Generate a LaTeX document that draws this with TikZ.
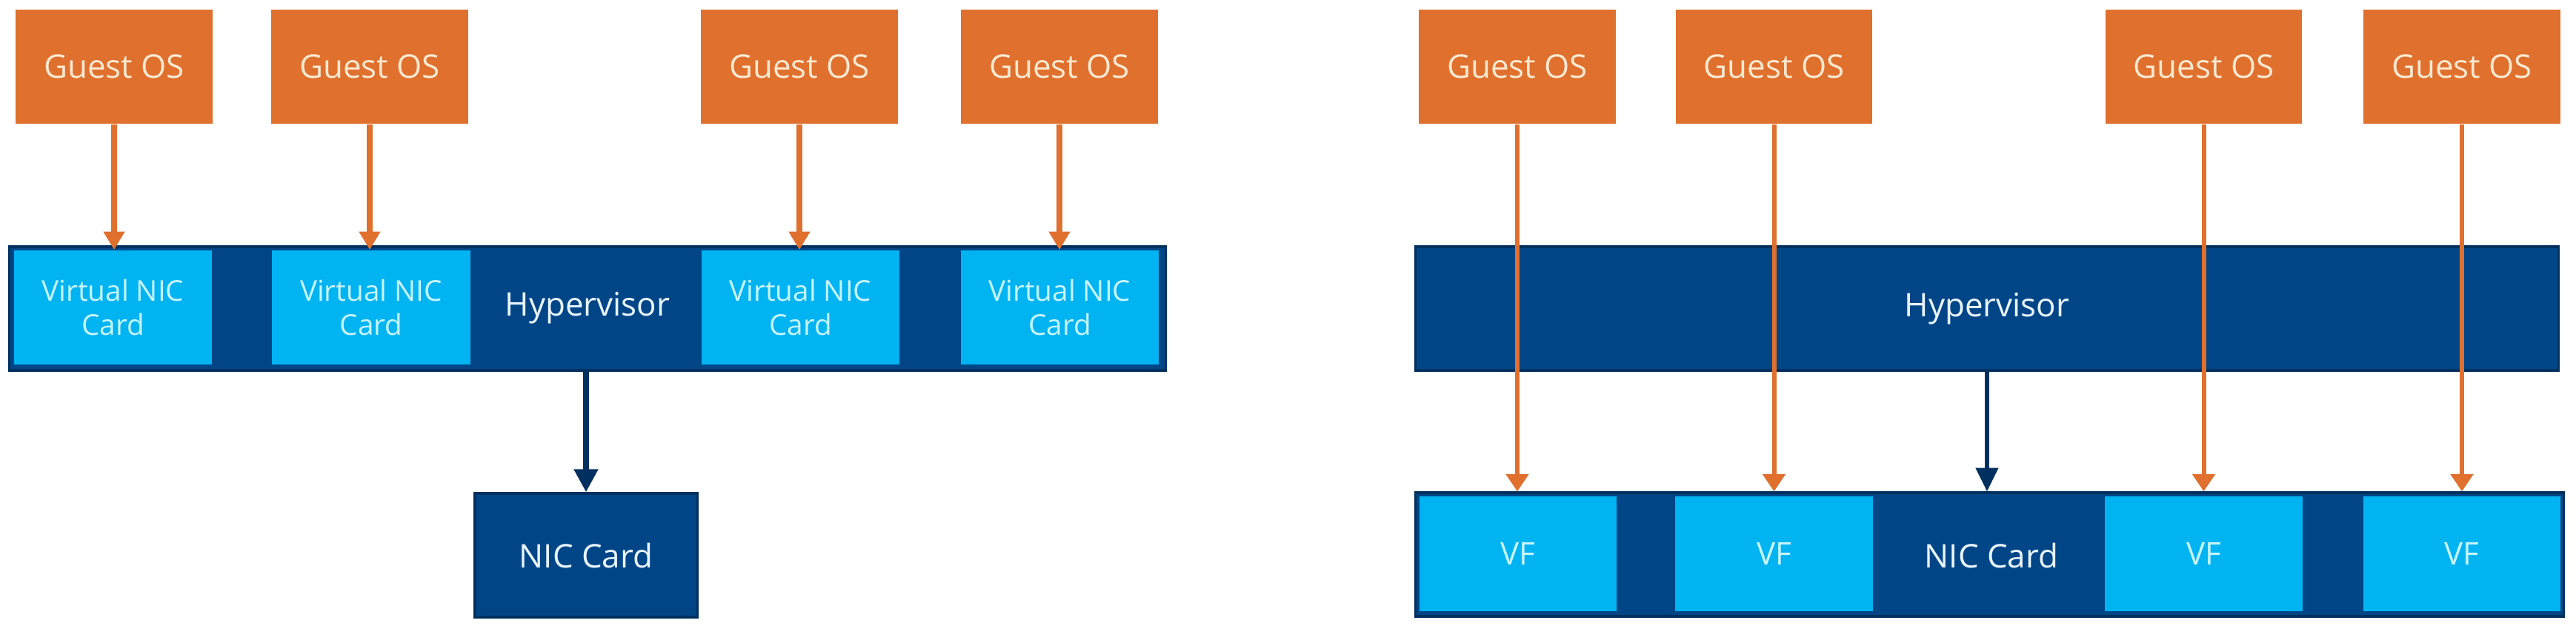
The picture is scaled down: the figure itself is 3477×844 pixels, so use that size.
\documentclass[tikz,border=0pt]{standalone}
\usepackage{fontspec}
\setmainfont{Open Sans}
\usetikzlibrary{arrows.meta}
\definecolor{gorange}{HTML}{E0702E}
\definecolor{gtext}{HTML}{FDE8CF}
\definecolor{vcyan}{HTML}{00B4F2}
\definecolor{ctext}{HTML}{C8F4FF}
\definecolor{dblue}{HTML}{004687}
\definecolor{dborder}{HTML}{00305F}
\definecolor{wtext}{HTML}{EAF4FF}
\tikzset{
  guest/.style={fill=gorange, draw=none, minimum width=2.65cm, minimum height=1.54cm,
    inner sep=0pt, text=gtext, font=\fontsize{12.5}{14}\selectfont, align=center},
  vnic/.style={fill=vcyan, draw=none, minimum width=2.67cm, minimum height=1.54cm,
    inner sep=0pt, text=ctext, font=\fontsize{11}{13}\selectfont, align=center},
  vfbox/.style={vnic, minimum width=2.66cm, minimum height=1.55cm, font=\fontsize{12}{14}\selectfont},
  bar/.style={fill=dblue, draw=dborder, line width=0.9pt, minimum height=1.67cm,
    inner sep=0pt, text=wtext, font=\fontsize{12.5}{14}\selectfont, align=center},
  lbl/.style={text=wtext, font=\fontsize{12.5}{14}\selectfont},
  oarrowL/.style={draw=gorange, line width=2.3pt, -{Triangle[width=7.8pt,length=7pt]}},
  oarrowR/.style={draw=gorange, line width=1.7pt, -{Triangle[width=8.4pt,length=6.6pt]}},
  barrowL/.style={draw=dborder, line width=2.5pt, -{Triangle[width=8.8pt,length=8.8pt]}},
  barrowR/.style={draw=dborder, line width=1.5pt, -{Triangle[width=8.4pt,length=9pt]}},
}
\begin{document}
\begin{tikzpicture}[x=0.01cm, y=-0.01cm]
\useasboundingbox (0,0) rectangle (3477,844);
\fill[white] (0,0) rectangle (3477,844);

% ---------------- Left diagram ----------------
\node[bar, minimum width=15.60cm] (hypL) at (793,416.5) {};
\node[vnic] (vn1) at (152.5,415) {Virtual NIC\\Card};
\node[vnic] (vn2) at (501,415) {Virtual NIC\\Card};
\node[vnic] (vn3) at (1080.5,415) {Virtual NIC\\Card};
\node[vnic] (vn4) at (1430.5,415) {Virtual NIC\\Card};
\node[lbl] (hypLt) at (793,416) {Hypervisor};

\node[guest] (gl1) at (154,90) {Guest OS};
\node[guest] (gl2) at (499,90) {Guest OS};
\node[guest] (gl3) at (1079,90) {Guest OS};
\node[guest] (gl4) at (1430,90) {Guest OS};

\node[bar, minimum width=3.00cm] (nicL) at (791,749.5) {NIC Card};

\draw[oarrowL] (gl1.south) -- (gl1.south |- vn1.north);
\draw[oarrowL] (gl2.south) -- (gl2.south |- vn2.north);
\draw[oarrowL] (gl3.south) -- (gl3.south |- vn3.north);
\draw[oarrowL] (gl4.south) -- (gl4.south |- vn4.north);
\draw[barrowL] (nicL.north |- hypL.south) -- (nicL.north);

% ---------------- Right diagram ----------------
\node[bar, minimum width=15.42cm] (hypR) at (2682,416.5) {Hypervisor};
\node[bar, minimum width=15.49cm] (nicR) at (2685.5,748.5) {};
\node[vfbox] (vf1) at (2049,747.5) {VF};
\node[vfbox] (vf2) at (2394.5,747.5) {VF};
\node[vfbox] (vf3) at (2974.5,747.5) {VF};
\node[vfbox] (vf4) at (3323,747.5) {VF};
\node[lbl] (nicRt) at (2688,750) {NIC Card};

\node[guest] (gr1) at (2048,90) {Guest OS};
\node[guest] (gr2) at (2394.5,90) {Guest OS};
\node[guest] (gr3) at (2974.5,90) {Guest OS};
\node[guest] (gr4) at (3323,90) {Guest OS};

\draw[oarrowR] (gr1.south) -- (gr1.south |- nicR.north);
\draw[oarrowR] (gr2.south) -- (gr2.south |- nicR.north);
\draw[oarrowR] (gr3.south) -- (gr3.south |- nicR.north);
\draw[oarrowR] (gr4.south) -- (gr4.south |- nicR.north);
\draw[barrowR] (hypR.south) -- (hypR.south |- nicR.north);
\end{tikzpicture}
\end{document}
